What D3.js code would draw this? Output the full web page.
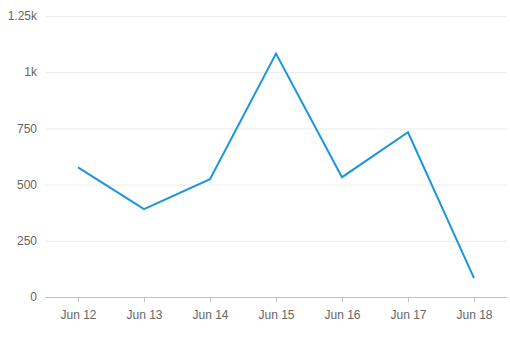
<!DOCTYPE html>
<html>
<head>
<meta charset="utf-8">
<script src="https://cdn.jsdelivr.net/npm/d3@7"></script>
<style>
  body { margin: 0; background: #fff; }
  svg { display: block; font-family: "Liberation Sans", Arial, sans-serif; }
</style>
</head>
<body>
<svg id="chart" width="510" height="342"></svg>
<script>
  const days = ['Jun 12', 'Jun 13', 'Jun 14', 'Jun 15', 'Jun 16', 'Jun 17', 'Jun 18']
  const values = [577, 391, 524, 1083, 533, 733, 84]
  const yTicks = [0, 250, 500, 750, 1000, 1250]
  const yLabels = ['0', '250', '500', '750', '1k', '1.25k']

  const margin = { top: 16, right: 3, bottom: 45, left: 45 }
  const width = 510, height = 342
  const svg = d3.select('#chart')

  const x = d3.scalePoint().domain(days).range([margin.left, width - margin.right]).padding(0.5)
  const y = d3.scaleLinear().domain([0, 1250]).range([height - margin.bottom, margin.top])

  // grid
  svg.append('g')
    .selectAll('line')
    .data(yTicks.slice(1))
    .join('line')
    .attr('x1', margin.left).attr('x2', width - margin.right)
    .attr('y1', d => y(d) + 0.5).attr('y2', d => y(d) + 0.5)
    .attr('stroke', '#ebebeb')

  // y labels
  svg.append('g')
    .selectAll('text')
    .data(yTicks)
    .join('text')
    .attr('x', 37)
    .attr('y', d => y(d))
    .attr('dy', '0.35em')
    .attr('text-anchor', 'end')
    .attr('fill', '#666')
    .attr('font-size', 12)
    .text((d, i) => yLabels[i])

  // x axis
  const xAxis = svg.append('g')
    .attr('transform', `translate(0,${y(0) + 0.5})`)
    .call(d3.axisBottom(x).tickSize(5).tickPadding(8).tickSizeOuter(0))
  xAxis.select('.domain').attr('stroke', '#c0c0c0').attr('d', `M${margin.left},0H${width - margin.right}`)
  xAxis.selectAll('.tick line').attr('stroke', '#c0c0c0')
  xAxis.selectAll('.tick text').attr('fill', '#666').attr('font-size', 12)
    .attr('font-family', '"Liberation Sans", Arial, sans-serif')

  const line = d3.line().x((d, i) => x(days[i])).y(d => y(d))
  svg.append('path')
    .datum(values)
    .attr('d', line)
    .attr('fill', 'none')
    .attr('stroke', '#1a96dc')
    .attr('stroke-width', 2)
    .attr('stroke-linejoin', 'miter')
</script>
</body>
</html>
